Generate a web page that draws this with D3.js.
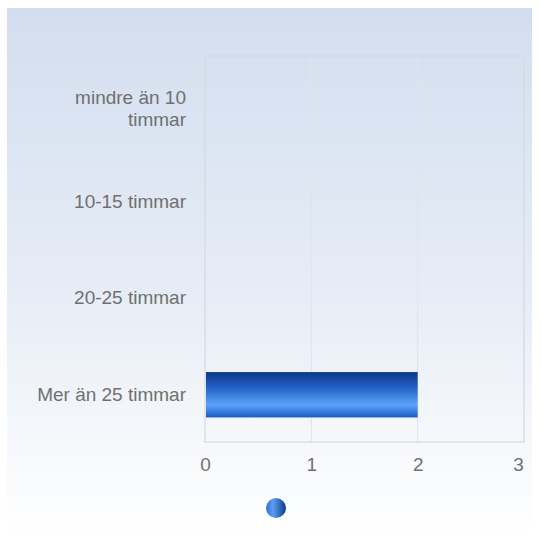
<!DOCTYPE html>
<html>
<head>
<meta charset="utf-8">
<script src="https://cdn.jsdelivr.net/npm/d3@7"></script>
<style>
  body { margin: 0; background: #fff; }
  #chart-container { width: 541px; height: 535px; }
</style>
</head>
<body>
<div id="chart-container"></div>
<script>
const categories = ["mindre än 10 timmar", "10-15 timmar", "20-25 timmar", "Mer än 25 timmar"];
const values = [0, 0, 0, 2];
const xTicks = [0, 1, 2, 3];

const width = 541;
const height = 535;
const margin = { top: 56, right: 17, bottom: 93, left: 205 };
const font = "'Liberation Sans', Arial, sans-serif";
const textColor = "#707070";

const svg = d3.select("#chart-container").append("svg")
    .attr("width", width)
    .attr("height", height);

const defs = svg.append("defs");

const bg = defs.append("linearGradient")
    .attr("id", "bg").attr("x1", 0).attr("y1", 0).attr("x2", 0).attr("y2", 1);
bg.append("stop").attr("offset", "0%").attr("stop-color", "#d2deef");
bg.append("stop").attr("offset", "55%").attr("stop-color", "#e7edf6");
bg.append("stop").attr("offset", "100%").attr("stop-color", "#ffffff");

const barGrad = defs.append("linearGradient")
    .attr("id", "bar").attr("x1", 0).attr("y1", 0).attr("x2", 0).attr("y2", 1);
[["0%", "#0a3786"], ["35%", "#2462c8"], ["72%", "#5aa3f6"], ["86%", "#3b82e4"], ["100%", "#1c58bf"]]
    .forEach(s => barGrad.append("stop").attr("offset", s[0]).attr("stop-color", s[1]));

const dotGrad = defs.append("linearGradient")
    .attr("id", "dot").attr("x1", 0).attr("y1", 0).attr("x2", 1).attr("y2", 0);
[["0%", "#2f6fd6"], ["35%", "#5c9ef2"], ["100%", "#0c3a8c"]]
    .forEach(s => dotGrad.append("stop").attr("offset", s[0]).attr("stop-color", s[1]));

svg.append("rect")
    .attr("x", 7).attr("y", 8)
    .attr("width", 525).attr("height", 527)
    .attr("fill", "url(#bg)");

const x = d3.scaleLinear()
    .domain([0, 3])
    .range([margin.left, width - margin.right]);

const y = d3.scaleBand()
    .domain(categories)
    .range([margin.top, height - margin.bottom])
    .paddingInner(0.53)
    .paddingOuter(0.265);

const yBand = d3.scaleBand()
    .domain(categories)
    .range([margin.top, height - margin.bottom]);

// grid
svg.append("g")
    .selectAll("line")
    .data(xTicks.slice(1, -1))
    .join("line")
    .attr("x1", d => x(d)).attr("x2", d => x(d))
    .attr("y1", margin.top).attr("y2", height - margin.bottom)
    .attr("stroke", "#dfe4ec")
    .attr("stroke-width", 1);

// plot border
svg.append("rect")
    .attr("x", x(0)).attr("y", margin.top)
    .attr("width", x(3) - x(0))
    .attr("height", height - margin.bottom - margin.top)
    .attr("fill", "none")
    .attr("stroke", "#d3d9e1")
    .attr("stroke-width", 1.2);

// bars
svg.append("g")
    .selectAll("rect")
    .data(values.map((v, i) => ({ cat: categories[i], v })).filter(d => d.v > 0))
    .join("rect")
    .attr("x", x(0) + 1)
    .attr("y", d => y(d.cat) + 1)
    .attr("width", d => x(d.v) - x(0) - 1)
    .attr("height", y.bandwidth())
    .attr("fill", "url(#bar)");

// x axis labels
const xAxis = d3.axisBottom(x).tickValues(xTicks).tickFormat(d3.format("d")).tickSize(0).tickPadding(16);
const gx = svg.append("g")
    .attr("transform", `translate(0,${height - margin.bottom})`)
    .call(xAxis);
gx.select(".domain").remove();
gx.selectAll("text")
    .attr("fill", textColor)
    .style("font-family", font)
    .style("font-size", "19px");
// last label is pulled inside the chart edge
gx.selectAll(".tick").filter(d => d === xTicks[xTicks.length - 1])
    .select("text").attr("dx", "-6");

// y labels with wrapping
const maxLabel = 160;
const ylab = svg.append("g").selectAll("text")
    .data(categories)
    .join("text")
    .attr("text-anchor", "end")
    .attr("fill", textColor)
    .style("font-family", font)
    .style("font-size", "19px");

ylab.each(function(d) {
    const t = d3.select(this);
    const words = d.split(" ");
    const lines = [];
    let line = [];
    const probe = t.append("tspan");
    words.forEach(w => {
        line.push(w);
        probe.text(line.join(" "));
        if (probe.node().getComputedTextLength() > maxLabel && line.length > 1) {
            line.pop();
            lines.push(line.join(" "));
            line = [w];
        }
    });
    lines.push(line.join(" "));
    probe.remove();
    const cy = yBand(d) + yBand.bandwidth() / 2;
    const lh = 22;
    lines.forEach((l, i) => {
        t.append("tspan")
            .attr("x", 186)
            .attr("y", cy + (i - (lines.length - 1) / 2) * lh + 7 + (lines.length > 1 ? 4 : 0))
            .text(l);
    });
});

// legend marker
svg.append("circle")
    .attr("cx", 276)
    .attr("cy", 508)
    .attr("r", 10)
    .attr("fill", "url(#dot)");
</script>
</body>
</html>
